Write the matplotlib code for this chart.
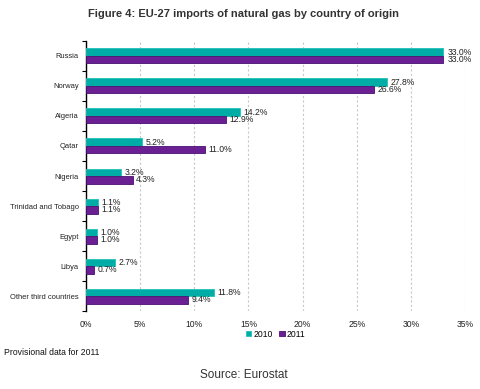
import matplotlib.pyplot as plt
import numpy as np

plt.rcParams['font.family'] = ['Liberation Sans', 'DejaVu Sans']

countries = ["Russia", "Norway", "Algeria", "Qatar", "Nigeria",
             "Trinidad and Tobago", "Egypt", "Libya", "Other third countries"]
share_2010 = [33.0, 27.8, 14.2, 5.2, 3.2, 1.1, 1.0, 2.7, 11.8]
share_2011 = [33.0, 26.6, 12.9, 11.0, 4.3, 1.1, 1.0, 0.7, 9.4]
xticks = [0, 5, 10, 15, 20, 25, 30, 35]

teal = "#00ADA6"
purple = "#6A1F92"

fig = plt.figure(figsize=(4.8, 3.89), dpi=100)
ax = fig.add_axes([0.179, 0.2, 0.79, 0.695])

y = np.arange(len(countries))
h = 0.25
ax.barh(y - h / 2, share_2010, height=h, color=teal, edgecolor="#1FC2B8",
        linewidth=0.6, label="2010", zorder=3)
ax.barh(y + h / 2, share_2011, height=h, color=purple, edgecolor="#4A1070",
        linewidth=0.6, label="2011", zorder=3)

for i in range(len(countries)):
    ax.text(share_2010[i] + 0.35, y[i] - h / 2, f"{share_2010[i]:.1f}%",
            va="center", ha="left", fontsize=6.2, color="#222222")
    ax.text(share_2011[i] + 0.35, y[i] + h / 2, f"{share_2011[i]:.1f}%",
            va="center", ha="left", fontsize=6.2, color="#222222")

ax.set_ylim(len(countries) - 0.5, -0.5)
ax.set_xlim(0, 35)
ax.set_xticks(xticks)
ax.set_xticklabels([f"{t}%" for t in xticks], fontsize=6.2, color="#222222")
ax.set_yticks(y)
ax.set_yticklabels(countries, fontsize=5.4, color="#222222")
ax.set_yticks(np.arange(len(countries) + 1) - 0.5, minor=True)
ax.tick_params(axis="y", which="major", length=0, pad=5)
ax.tick_params(axis="y", which="minor", length=3, width=0.8, color="black")
ax.tick_params(axis="x", length=0, pad=6)

for s in ["top", "right", "bottom"]:
    ax.spines[s].set_visible(False)
ax.spines["left"].set_linewidth(1.0)
ax.xaxis.grid(True, linestyle=(0, (2, 2)), color="#C8C8C8", linewidth=0.8, zorder=0)
ax.set_axisbelow(True)

fig.text(0.507, 0.965, "Figure 4: EU-27 imports of natural gas by country of origin",
         ha="center", va="center", fontsize=8, fontweight="bold", color="#333333")

ax.legend(loc="center", bbox_to_anchor=(0.5, -0.085), ncol=2, frameon=False,
          fontsize=6.2, handlelength=0.6, handleheight=0.6, handletextpad=0.2,
          columnspacing=0.8, borderaxespad=0)

fig.text(0.008, 0.095, "Provisional data for 2011", ha="left", va="center",
         fontsize=6.2, color="#111111")
fig.text(0.507, 0.036, "Source: Eurostat", ha="center", va="center",
         fontsize=8.5, color="#333333")

fig.savefig("out.png", dpi=100)
